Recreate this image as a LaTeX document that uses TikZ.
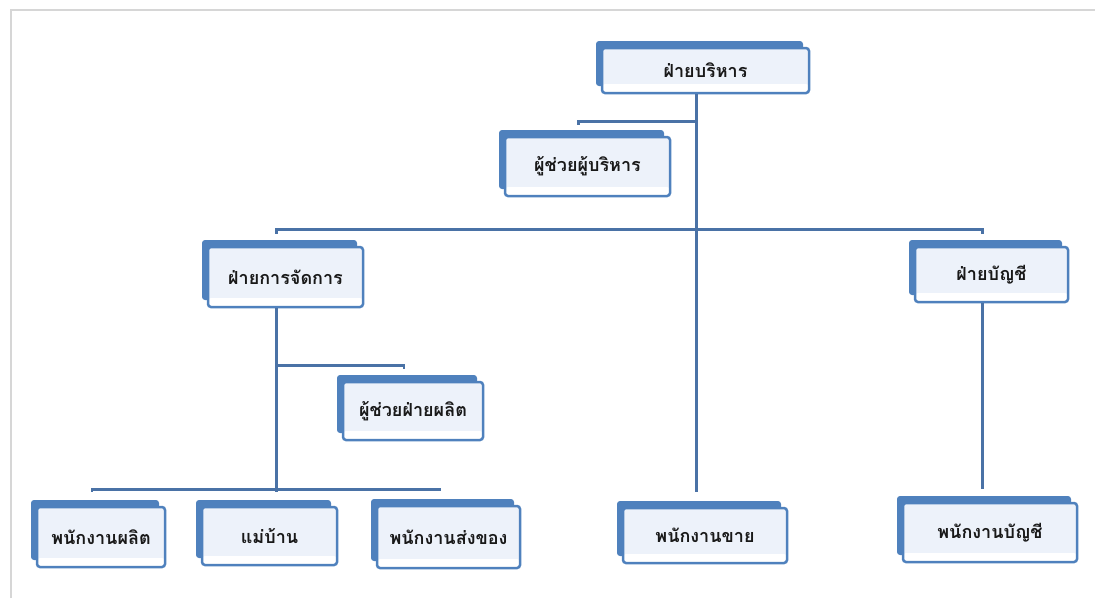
\documentclass[tikz,border=0pt]{standalone}
\usepackage{fontspec}
\newfontfamily\thaifont[Script=Thai]{Loma}
\usetikzlibrary{shadows}

\definecolor{orgblue}{HTML}{4F81BD}
\definecolor{orgfill}{HTML}{EDF2FA}
\definecolor{orgline}{HTML}{4A72A6}
\definecolor{pageedge}{HTML}{D6D6D6}

\tikzset{
  orgbox/.style={draw=orgblue, line width=2.5pt, rounded corners=3pt, fill=orgfill,
    inner sep=0pt, general shadow={fill=orgblue, shadow xshift=-6pt, shadow yshift=7pt},
    path picture={\fill[white] (path picture bounding box.south west) rectangle
      ([yshift=9pt]path picture bounding box.south east);},
    font=\thaifont\bfseries\fontsize{18}{21}\selectfont, text=black!90},
  orglink/.style={draw=orgline, line width=2.5pt}
}

\begin{document}
\begin{tikzpicture}[x=1pt,y=-1pt]
				\useasboundingbox (0,0) rectangle (1095,598);
				% page edge
				\draw[pageedge, line width=2pt] (11,598) -- (11,10) -- (1095,10);
				% boxes
				\node[orgbox, minimum width=207pt, minimum height=45pt] (exec) at (705.5,70.5) {ฝ่ายบริหาร};
				\node[orgbox, minimum width=165pt, minimum height=59pt] (asst) at (587.5,166.5) {ผู้ช่วยผู้บริหาร};
				\node[orgbox, minimum width=155pt, minimum height=60pt] (mgmt) at (285.5,277) {ฝ่ายการจัดการ};
				\node[orgbox, minimum width=153pt, minimum height=55pt] (acct) at (991.5,274.5) {ฝ่ายบัญชี};
				\node[orgbox, minimum width=140pt, minimum height=58pt] (prodasst) at (413,411) {ผู้ช่วยฝ่ายผลิต};
				\node[orgbox, minimum width=128pt, minimum height=60pt] (prod) at (101,537) {พนักงานผลิต};
				\node[orgbox, minimum width=135pt, minimum height=58pt] (maid) at (269.5,536) {แม่บ้าน};
				\node[orgbox, minimum width=143pt, minimum height=62pt] (ship) at (448.5,537) {พนักงานส่งของ};
				\node[orgbox, minimum width=164pt, minimum height=55pt] (sales) at (705,535.5) {พนักงานขาย};
				\node[orgbox, minimum width=174pt, minimum height=59pt] (acctstaff) at (990,532.5) {พนักงานบัญชี};
				% trunk under the executive box
				\coordinate (top) at ([xshift=-9pt]exec.south);
				\draw[orglink, shorten >=15pt] (top) -- (top |- sales.north);
				\draw[orglink] ([yshift=-27pt]top) -| ([xshift=-9pt,yshift=11pt]asst.north);
				\draw[orglink] ([xshift=-9pt,yshift=12pt]mgmt.north) |- ([yshift=-135pt]top)
				-| ([xshift=-9pt,yshift=12pt]acct.north);
				% management branch
				\coordinate (mtop) at ([xshift=-9pt]mgmt.south);
				\draw[orglink, shorten >=14pt] (mtop) -- (mtop |- maid.north);
				\draw[orglink] ([yshift=-57pt]mtop) -| ([xshift=-9pt,yshift=12pt]prodasst.north);
				\draw[orglink] ([xshift=-9pt,yshift=14pt]prod.north) |- ([yshift=-181pt]mtop)
				-| ([xshift=-9pt,yshift=14pt]ship.north);
				% accounting branch
				\coordinate (atop) at ([xshift=-9pt]acct.south);
				\draw[orglink, shorten >=13pt] (atop) -- (atop |- acctstaff.north);
\end{tikzpicture}
\end{document}
